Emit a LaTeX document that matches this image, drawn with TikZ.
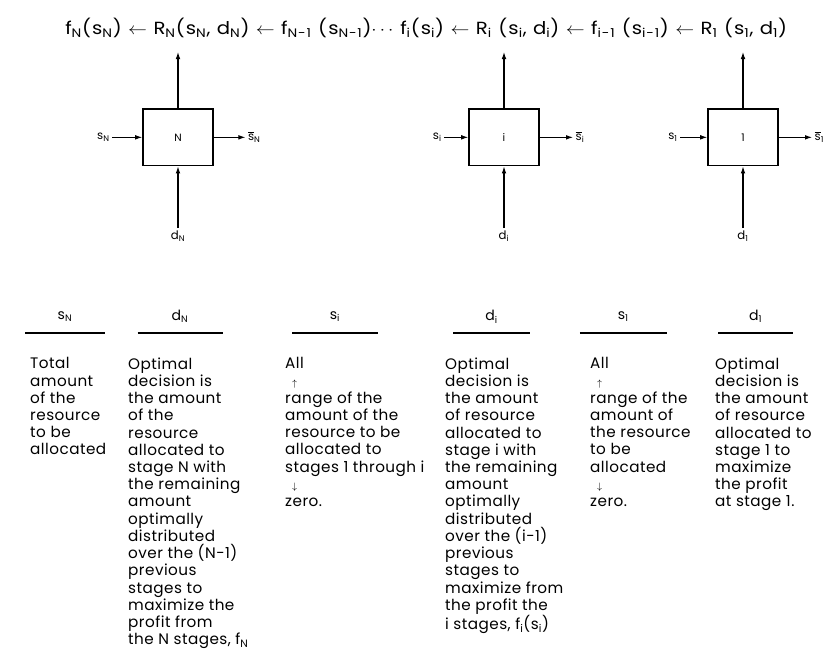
\documentclass[tikz,border=0pt]{standalone}
\usepackage{fontspec}
\setmainfont{Poppins}
\usetikzlibrary{arrows.meta,positioning}
\newcommand{\lo}[1]{\textsubscript{#1}}
\newcommand{\sbar}{$\overline{\mbox{s}}$}
\newcommand{\larrow}{\ $\leftarrow$\ }
\newcommand{\rangeup}{\hspace{0.45em}{\footnotesize$\uparrow$}}
\newcommand{\rangedown}{\hspace{0.45em}{\footnotesize$\downarrow$}}

\begin{document}
\begin{tikzpicture}[
    stagebox/.style={draw, line width=1.3pt, minimum width=2.1cm, minimum height=1.7cm, font=\small},
    flow/.style={line width=0.9pt, -{Latex[length=6pt,width=4pt]}},
    varlabel/.style={font=\normalsize, inner sep=2pt},
    relation/.style={font=\fontsize{15}{17}\selectfont\addfontfeature{LetterSpace=6}, transform shape, xscale=1.12, anchor=west, inner sep=0pt},
    colhead/.style={font=\large},
    coltext/.style={font=\fontsize{13}{14.7}\selectfont\addfontfeature{LetterSpace=3}, align=left, anchor=north west, inner sep=0pt},
    headrule/.style={line width=1.2pt}
]
\useasboundingbox (0,0) rectangle (24.78,-19.59);

% Recursive relation
\node[relation] (eqleft) at (1.95,-0.84)
    {f\lo{N}(s\lo{N})\larrow R\lo{N}(s\lo{N}, d\lo{N})\larrow f\lo{N-1} (s\lo{N-1})$\cdots$};
\node[relation] (eqright) at (12.0,-0.84)
    {f\lo{i}(s\lo{i})\larrow R\lo{i} (s\lo{i}, d\lo{i})\larrow f\lo{i-1} (s\lo{i-1})\larrow R\lo{1} (s\lo{1}, d\lo{1})};
\coordinate (topN) at (5.34,-1.56);
\coordinate (topi) at (15.12,-1.56);
\coordinate (topone) at (22.29,-1.56);

% Stage N
\node[stagebox] (N) at (5.34,-4.12) {N};
\node[varlabel, left=0.9cm of N] (sN) {s\lo{N}};
\node[varlabel, right=0.95cm of N] (oN) {\sbar\lo{N}};
\node[varlabel, below=1.85cm of N] (dN) {d\lo{N}};
\draw[flow] (sN) -- (N);
\draw[flow] (N) -- (oN);
\draw[flow] (dN) -- (N);
\draw[flow] (N) -- (topN);

% Stage i
\node[stagebox] (i) at (15.12,-4.12) {i};
\node[varlabel, left=0.72cm of i] (si) {s\lo{i}};
\node[varlabel, right=1.0cm of i] (oi) {\sbar\lo{i}};
\node[varlabel, below=1.85cm of i] (di) {d\lo{i}};
\draw[flow] (si) -- (i);
\draw[flow] (i) -- (oi);
\draw[flow] (di) -- (i);
\draw[flow] (i) -- (topi);

% Stage 1
\node[stagebox] (one) at (22.29,-4.12) {1};
\node[varlabel, left=0.81cm of one] (sone) {s\lo{1}};
\node[varlabel, right=1.0cm of one] (oone) {\sbar\lo{1}};
\node[varlabel, below=1.85cm of one] (done) {d\lo{1}};
\draw[flow] (sone) -- (one);
\draw[flow] (one) -- (oone);
\draw[flow] (done) -- (one);
\draw[flow] (one) -- (topone);

% Column headings
\foreach \name/\x/\w/\head in {hsN/1.95/2.4/{s\lo{N}}, hdN/5.4/2.55/{d\lo{N}}, hsi/10.05/2.58/{s\lo{i}},
                               hdi/14.75/2.31/{d\lo{i}}, hsone/18.7/2.61/{s\lo{1}}, hdone/22.67/2.25/{d\lo{1}}} {
    \node[colhead] (\name) at (\x,-9.5) {\head};
    \draw[headrule] (\x-\w/2,-9.99) -- (\x+\w/2,-9.99);
}

% Column texts
\node[coltext] (tsN) at (0.9,-10.72) {Total\\amount\\of the\\resource\\to be\\allocated};
\node[coltext] (tdN) at (3.84,-10.72) {Optimal\\decision is\\the amount\\of the\\resource\\allocated to\\stage N with\\the remaining\\amount\\optimally\\distributed\\over the (N-1)\\previous\\stages to\\maximize the\\profit from\\the N stages, f\lo{N}};
\node[coltext] (tsi) at (8.55,-10.72) {All\\\rangeup\\range of the\\amount of the\\resource to be\\allocated to\\stages 1 through i\\\rangedown\\zero.};
\node[coltext] (tdi) at (13.35,-10.72) {Optimal\\decision is\\the amount\\of resource\\allocated to\\stage i with\\the remaining\\amount\\optimally\\distributed\\over the (i-1)\\previous\\stages to\\maximize from\\the profit the\\i stages, f\lo{i}(s\lo{i})};
\node[coltext] (tsone) at (17.7,-10.72) {All\\\rangeup\\range of the\\amount of\\the resource\\to be\\allocated\\\rangedown\\zero.};
\node[coltext] (tdone) at (21.45,-10.72) {Optimal\\decision is\\the amount\\of resource\\allocated to\\stage 1 to\\maximize\\the profit\\at stage 1.};

\end{tikzpicture}
\end{document}
